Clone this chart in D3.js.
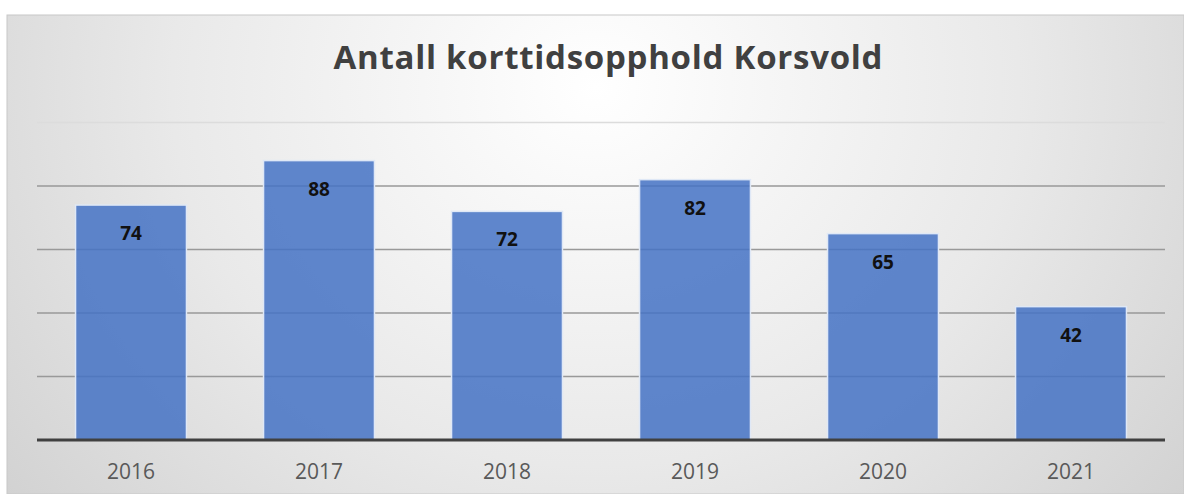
<!DOCTYPE html>
<html><head><meta charset="utf-8">
<script src="https://cdn.jsdelivr.net/npm/d3@7"></script>
<style>html,body{margin:0;padding:0;background:#fff;}svg{display:block;}</style>
</head><body>
<svg id="chart" width="1184" height="494"></svg>
<script>
const categories = ["2016","2017","2018","2019","2020","2021"];
const values = [74, 88, 72, 82, 65, 42];
const yTicks = [0, 20, 40, 60, 80, 100];
const title = "Antall korttidsopphold Korsvold";

const svg = d3.select("#chart");
const W = 1184, H = 494;
const defs = svg.append("defs");
const grad = defs.append("radialGradient").attr("id","bg")
  .attr("cx","50%").attr("cy","15%").attr("r","80%")
  .attr("gradientTransform","translate(0.5,0.15) scale(1,2.2) translate(-0.5,-0.15)");
grad.append("stop").attr("offset","0%").attr("stop-color","#ffffff");
grad.append("stop").attr("offset","45%").attr("stop-color","#e9e9e9");
grad.append("stop").attr("offset","100%").attr("stop-color","#c4c4c4");

svg.append("rect").attr("x",7).attr("y",15).attr("width",W-7).attr("height",H-15)
  .attr("fill","url(#bg)").attr("stroke","#c8c8c8").attr("stroke-width",1);

const x = d3.scaleBand().domain(categories).range([37,1165]).paddingInner(0.41).paddingOuter(0.205);
const y = d3.scaleLinear().domain([0,100]).range([440,122.5]);

// gridlines
svg.append("g").selectAll("line").data(yTicks.filter(d=>d>0)).join("line")
  .attr("x1",37).attr("x2",1165)
  .attr("y1",d=>y(d)).attr("y2",d=>y(d))
  .attr("stroke",d=>d===100?"#dcdcdc":"#999999").attr("stroke-width",1.5);

// bars
svg.append("g").selectAll("rect").data(values).join("rect")
  .attr("x",(d,i)=>x(categories[i]))
  .attr("width",x.bandwidth())
  .attr("y",d=>y(d))
  .attr("height",d=>y(0)-y(d))
  .attr("fill","#4472c4").attr("fill-opacity",0.85)
  .attr("stroke","#dfe8f6").attr("stroke-width",1.5);

// baseline
svg.append("line").attr("x1",37).attr("x2",1165).attr("y1",y(0)).attr("y2",y(0))
  .attr("stroke","#404040").attr("stroke-width",3);

// value labels
svg.append("g").selectAll("text").data(values).join("text")
  .attr("x",(d,i)=>x(categories[i])+x.bandwidth()/2)
  .attr("y",d=>y(d)+35)
  .attr("text-anchor","middle")
  .attr("font-family","Open Sans, sans-serif").attr("font-weight","bold").attr("font-size",19)
  .attr("fill","#111111")
  .text(d=>d);

// x axis
const xAxis = svg.append("g").attr("transform",`translate(0,${y(0)})`).call(d3.axisBottom(x).tickSize(0).tickPadding(0));
xAxis.select(".domain").remove();
xAxis.selectAll("text").attr("dy",null).attr("y",39)
  .attr("font-family","Open Sans, sans-serif").attr("font-size",21).attr("fill","#595959");

// title
svg.append("text").attr("x",608).attr("y",69).attr("text-anchor","middle")
  .attr("font-family","Open Sans, sans-serif").attr("font-weight","bold").attr("font-size",33)
  .attr("textLength",549).attr("lengthAdjust","spacing")
  .attr("fill","#404040").text(title);
</script>
</body></html>
